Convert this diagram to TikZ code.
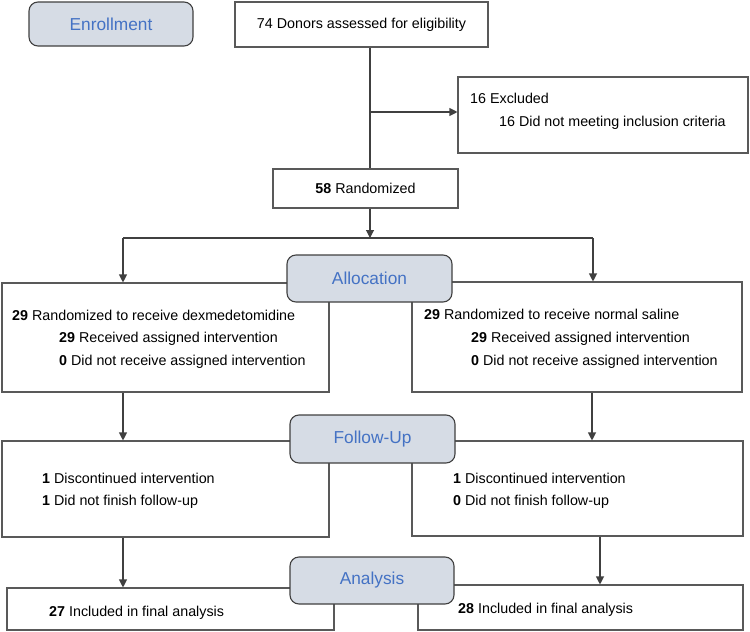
\documentclass[tikz,border=0pt]{standalone}
\usepackage{fontspec}
\setmainfont{Liberation Sans}
\usetikzlibrary{arrows.meta}
\definecolor{hdfill}{HTML}{D6DCE5}
\definecolor{hdtext}{HTML}{4472C4}
\definecolor{linec}{HTML}{404040}
\definecolor{boxc}{HTML}{595959}
\begin{document}
\begin{tikzpicture}[x=1pt,y=-1pt,
  box/.style={draw=boxc,line width=1.1pt,fill=white,inner sep=0pt,rectangle},
  header/.style={draw=linec,line width=1.1pt,fill=hdfill,rounded corners=9pt,inner sep=0pt,
     text=hdtext,font=\fontsize{17.3}{20}\selectfont},
  txt/.style={anchor=base west,inner sep=0pt,font=\fontsize{14.3}{17}\selectfont},
  ctxt/.style={font=\fontsize{14.3}{17}\selectfont},
  conn/.style={draw=linec,line width=1.1pt},
  arr/.style={conn,-{Triangle[length=8pt,width=8pt]}}]
\useasboundingbox (0,0) rectangle (750,632);
% rectangles
\node[box,minimum width=253pt,minimum height=45pt,ctxt] (don) at (361.5,24.5) {74 Donors assessed for eligibility};
\node[box,minimum width=290pt,minimum height=76pt] (exc) at (603,115) {};
\node[box,minimum width=185pt,minimum height=39pt,ctxt] (rnd) at (365.5,188.5) {\textbf{58} Randomized};
\node[box,minimum width=327pt,minimum height=109pt] (la) at (165.5,337.5) {};
\node[box,minimum width=330pt,minimum height=110pt] (ra) at (577,337) {};
\node[box,minimum width=327pt,minimum height=96pt] (lf) at (165.5,489) {};
\node[box,minimum width=331pt,minimum height=95pt] (rf) at (577.5,488.5) {};
\node[box,minimum width=327pt,minimum height=42pt] (lan) at (170.5,609) {};
\node[box,minimum width=325pt,minimum height=45pt] (ran) at (580.5,607.5) {};
% headers
\node[header,minimum width=164pt,minimum height=44pt] (enr) at (111,24) {Enrollment};
\node[header,minimum width=165pt,minimum height=47pt] (alloc) at (369.5,278.5) {Allocation};
\node[header,minimum width=165pt,minimum height=48pt] (fu) at (372.5,439) {Follow-Up};
\node[header,minimum width=164pt,minimum height=47pt] (an) at (372,580.5) {Analysis};
% texts
\node[txt] (t1) at (470,103) {16 Excluded};
\node[txt] (t2) at (499,126) {16 Did not meeting inclusion criteria};
\node[txt] (t3) at (12,320) {\textbf{29} Randomized to receive dexmedetomidine};
\node[txt] (t4) at (59,342) {\textbf{29} Received assigned intervention};
\node[txt] (t5) at (59,365) {\textbf{0} Did not receive assigned intervention};
\node[txt] (t6) at (424,319) {\textbf{29} Randomized to receive normal saline};
\node[txt] (t7) at (471,342) {\textbf{29} Received assigned intervention};
\node[txt] (t8) at (471,365) {\textbf{0} Did not receive assigned intervention};
\node[txt] (t9) at (42,483) {\textbf{1} Discontinued intervention};
\node[txt] (t10) at (42,505) {\textbf{1} Did not finish follow-up};
\node[txt] (t11) at (453,483) {\textbf{1} Discontinued intervention};
\node[txt] (t12) at (453,505) {\textbf{0} Did not finish follow-up};
\node[txt] (t13) at (49,616) {\textbf{27} Included in final analysis};
\node[txt] (t14) at (458,613) {\textbf{28} Included in final analysis};
% connectors
\coordinate (b1) at (370,112);
\coordinate (hl) at (123,238);
\coordinate (hr) at (593,238);
\coordinate (hm) at (370,238);
\draw[conn] (don.south -| b1) -- (rnd.north -| b1);
\draw[arr] (b1) -- (exc.west |- b1);
\draw[arr] (rnd.south -| hm) -- (hm);
\draw[conn] (hl) -- (hr);
\draw[arr] (hl) -- (la.north -| hl);
\draw[arr] (hr) -- (ra.north -| hr);
\coordinate (c1) at (123,0);
\coordinate (c2) at (592,0);
\coordinate (c3) at (600,0);
\draw[arr] (la.south -| c1) -- (lf.north -| c1);
\draw[arr] (ra.south -| c2) -- (rf.north -| c2);
\draw[arr] (lf.south -| c1) -- (lan.north -| c1);
\draw[arr] (rf.south -| c3) -- (ran.north -| c3);
\end{tikzpicture}
\end{document}
